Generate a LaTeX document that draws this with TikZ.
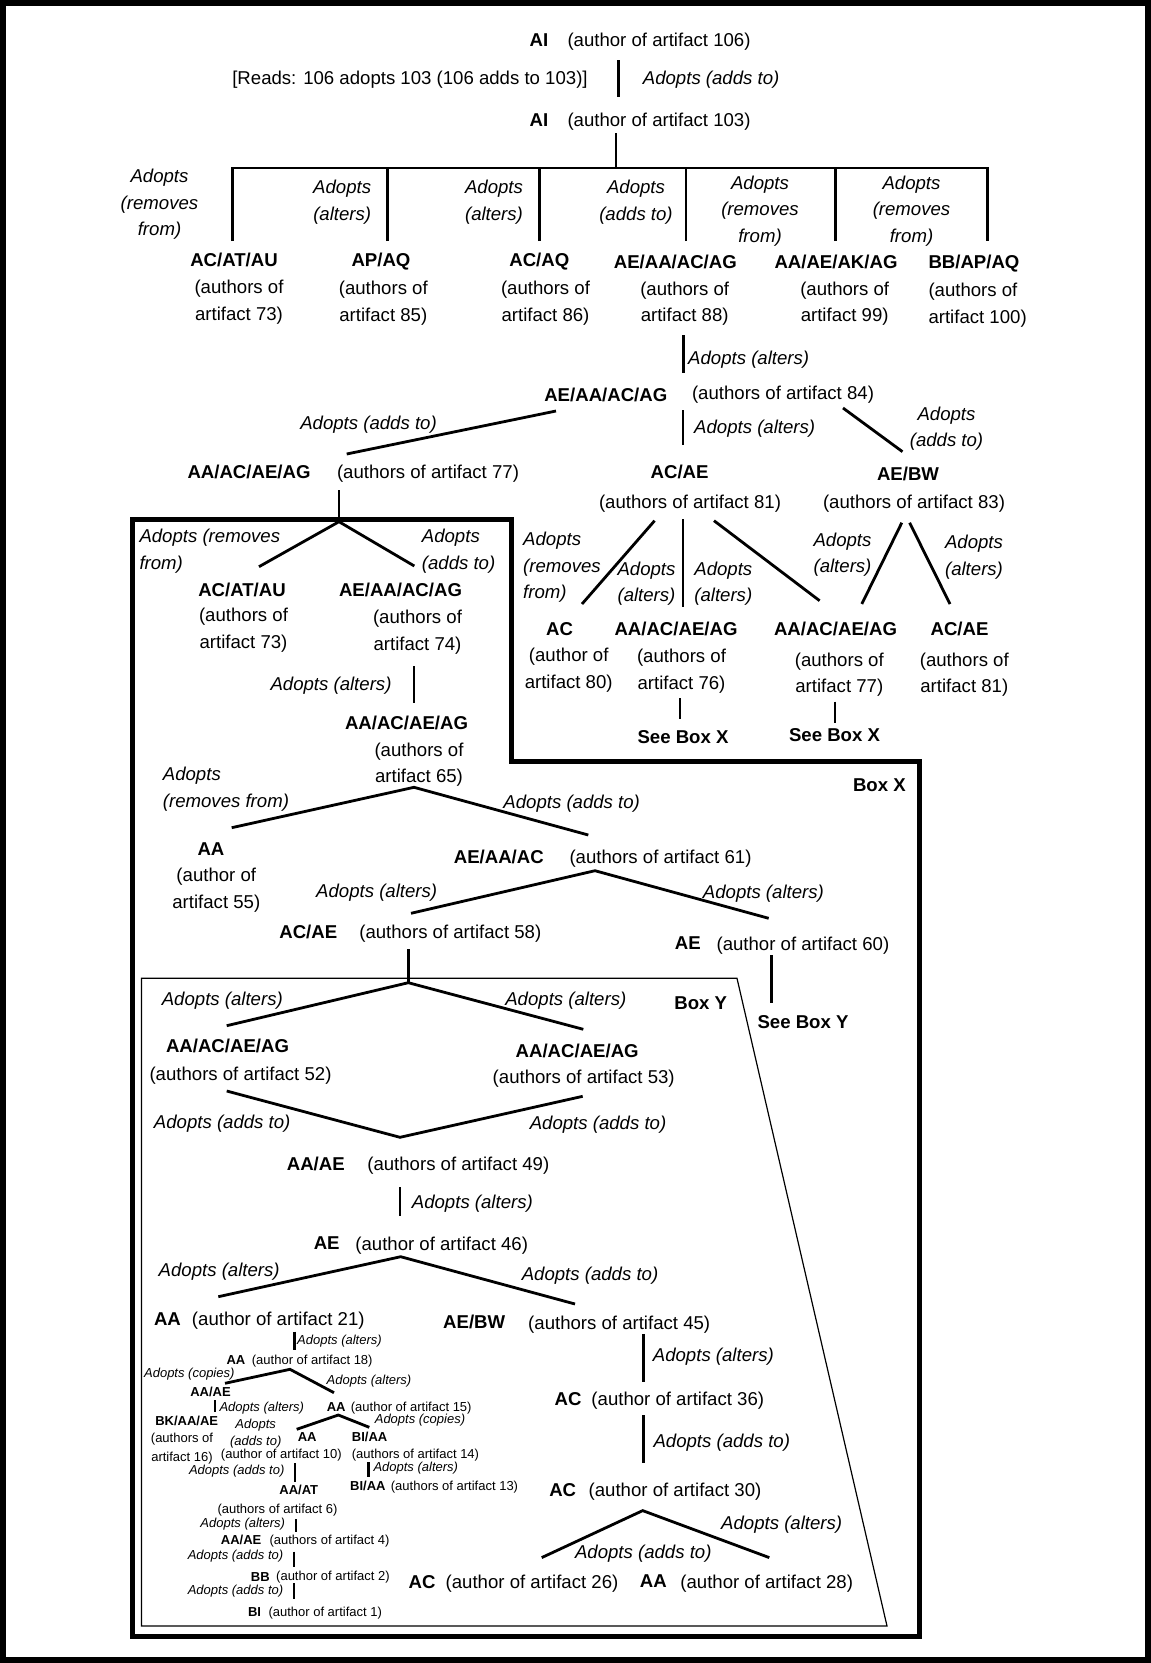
\documentclass[tikz,border=0pt]{standalone}
\usepackage{fontspec}
\setmainfont{Liberation Sans}
\tikzset{
  auth/.style={inner sep=0pt, anchor=north, yshift=6.7pt, align=center, font=\fontsize{18.6}{26.5}\selectfont},
  who/.style={auth, font=\fontsize{18.6}{26.5}\selectfont\bfseries},
  adopt/.style={auth, font=\fontsize{18.6}{26.5}\selectfont\itshape},
  sauth/.style={inner sep=0pt, anchor=north, yshift=4.7pt, align=center, font=\fontsize{13}{16.7}\selectfont},
  swho/.style={sauth, font=\fontsize{13}{16.7}\selectfont\bfseries},
  sadopt/.style={sauth, font=\fontsize{13}{16.7}\selectfont\itshape},
  ln/.style={line width=2.8pt}
}
\begin{document}
\begin{tikzpicture}[x=1pt,y=-1pt]
  \useasboundingbox (0,0) rectangle (1151,1663);
  \draw[line width=6pt] (3,3) rectangle (1148,1660);

  \node[who] (n106) at (539,40) {AI};
  \node[auth] (d106) at (659,40) {(author of artifact 106)};
  \node[auth] (reads) at (410,78) {[Reads: 106 adopts 103 (106 adds to 103)]};
  \node[adopt,anchor=north west] (l103) at (642.7,78) {Adopts (adds to)};
  \node[who] (n103) at (539,120) {AI};
  \node[auth] (d103) at (659,120) {(author of artifact 103)};
  \coordinate (c106) at (618.5,60);
  \coordinate (c103a) at (618.5,97);
  \draw[ln] (c106) -- (c103a);

  \coordinate (c103) at (616,133);
  \coordinate (j103) at (616,168);
  \coordinate (t73) at (232.3,241);
  \coordinate (t85) at (387.3,241);
  \coordinate (t86) at (539.3,241);
  \coordinate (t88) at (686,241);
  \coordinate (t99) at (835.3,241);
  \coordinate (t100) at (987.3,241);
  \draw[ln] (c103) -- (j103);
  \draw[ln] (t73) |- (j103) -| (t100);
  \foreach \t in {t85,t86,t88,t99}
    \draw[ln] (\t) -- (\t |- j103);

  \node[adopt] (l73) at (159.5,176) {Adopts\\(removes\\from)};
  \node[adopt] (l85) at (342.2,186.7) {Adopts\\(alters)};
  \node[adopt] (l86) at (494,186.7) {Adopts\\(alters)};
  \node[adopt] (l88) at (636,186.7) {Adopts\\(adds to)};
  \node[adopt] (l99) at (760,182.3) {Adopts\\(removes\\from)};
  \node[adopt] (l100) at (911.5,182.3) {Adopts\\(removes\\from)};

  \node[who] (n73) at (234,260) {AC/AT/AU};
  \node[auth] (d73) at (239,287) {(authors of\\artifact 73)};
  \node[who] (n85) at (381,260) {AP/AQ};
  \node[auth] (d85) at (383.3,288) {(authors of\\artifact 85)};
  \node[who] (n86) at (539.3,260) {AC/AQ};
  \node[auth] (d86) at (545.5,288) {(authors of\\artifact 86)};
  \node[who] (n88) at (675.3,261.7) {AE/AA/AC/AG};
  \node[auth] (d88) at (684.7,288.3) {(authors of\\artifact 88)};
  \node[who] (n99) at (836,261.7) {AA/AE/AK/AG};
  \node[auth] (d99) at (844.7,288.3) {(authors of\\artifact 99)};
  \node[who,anchor=north west] (n100) at (928.3,261.7) {BB/AP/AQ};
  \node[auth,anchor=north west,align=left] (d100) at (928.3,290) {(authors of\\artifact 100)};

  \coordinate (c88) at (683.3,335);
  \coordinate (c84a) at (683.3,373);
  \draw[ln] (c88) -- (c84a);
  \node[adopt,anchor=north west] (l84) at (688,358) {Adopts (alters)};
  \node[who] (n84) at (605.8,394.3) {AE/AA/AC/AG};
  \node[auth] (d84) at (783,392.3) {(authors of artifact 84)};
  \coordinate (c84b) at (683,410);
  \coordinate (c81) at (683,445);
  \draw[ln] (c84b) -- (c81);
  \node[adopt,anchor=north west] (l81) at (694,426.7) {Adopts (alters)};
  \coordinate (c84c) at (556,411);
  \coordinate (c77) at (346.7,454);
  \draw[ln] (c84c) -- (c77);
  \node[adopt] (l77) at (368.5,422.3) {Adopts (adds to)};
  \coordinate (c84d) at (843,408);
  \coordinate (c83) at (902.5,451.7);
  \draw[ln] (c84d) -- (c83);
  \node[adopt] (l83) at (946.5,413.3) {Adopts\\(adds to)};

  \node[who] (n77) at (249,471.7) {AA/AC/AE/AG};
  \node[auth] (d77) at (428,471.7) {(authors of artifact 77)};
  \node[who] (n81) at (679.6,471.7) {AC/AE};
  \node[auth] (d81) at (690,501.7) {(authors of artifact 81)};
  \node[who] (n83) at (908,474) {AE/BW};
  \node[auth] (d83) at (914,501.7) {(authors of artifact 83)};

  \coordinate (c81a) at (654.6,520.7);
  \coordinate (c80) at (582,604);
  \coordinate (c81b) at (683,519);
  \coordinate (c76) at (683,607);
  \coordinate (c81c) at (714,520.7);
  \coordinate (c77b) at (819.6,600.7);
  \coordinate (c83a) at (901.8,522.7);
  \coordinate (c77c) at (861.8,604);
  \coordinate (c83b) at (909.6,522.7);
  \coordinate (c81d) at (950,604);
  \draw[ln] (c81a) -- (c80);
  \draw[ln] (c81b) -- (c76);
  \draw[ln] (c81c) -- (c77b);
  \draw[ln] (c83a) -- (c77c);
  \draw[ln] (c83b) -- (c81d);
  \node[adopt,anchor=north west,align=left] (l80) at (523,539) {Adopts\\(removes\\from)};
  \node[adopt] (l76) at (646.5,568.3) {Adopts\\(alters)};
  \node[adopt] (l77b) at (723.3,568.3) {Adopts\\(alters)};
  \node[adopt] (l77c) at (842.5,539.3) {Adopts\\(alters)};
  \node[adopt] (l81b) at (974,541.7) {Adopts\\(alters)};

  \node[who] (n80) at (559.5,629) {AC};
  \node[auth] (d80) at (568.7,655) {(author of\\artifact 80)};
  \node[who] (n76) at (676,629) {AA/AC/AE/AG};
  \node[auth] (d76) at (681.5,656) {(authors of\\artifact 76)};
  \node[who] (n77b) at (835.5,629) {AA/AC/AE/AG};
  \node[auth] (d77b) at (839.3,659.3) {(authors of\\artifact 77)};
  \node[who] (n81b) at (959.5,629) {AC/AE};
  \node[auth] (d81b) at (964.3,659.3) {(authors of\\artifact 81)};
  \coordinate (c76a) at (680,698);
  \coordinate (x76) at (680,719);
  \coordinate (c77d) at (835,701.7);
  \coordinate (x77) at (835,722.7);
  \draw[ln] (c76a) -- (x76);
  \draw[ln] (c77d) -- (x77);
  \node[who] (s76) at (683,736.7) {See Box X};
  \node[who] (s77) at (834.5,735) {See Box X};

  \draw[line width=5pt] (132.5,519) -- (511,519) -- (511,761.5) -- (919.5,761.5)
    -- (919.5,1636) -- (132.5,1636) -- cycle;
  \node[who] (bx) at (879.4,785) {Box X};

  \coordinate (c77a) at (339,490);
  \coordinate (j77) at (339,521.7);
  \coordinate (c73b) at (259,566.7);
  \coordinate (c74) at (414.3,566);
  \draw[ln] (c77a) -- (j77);
  \draw[ln] (c73b) -- (j77) -- (c74);
  \node[adopt,anchor=north west,align=left] (l73b) at (139.3,535.7) {Adopts (removes\\from)};
  \node[adopt,anchor=north west,align=left] (l74) at (421.7,535.7) {Adopts\\(adds to)};
  \node[who] (n73b) at (242,590) {AC/AT/AU};
  \node[auth] (d73b) at (243.5,615) {(authors of\\artifact 73)};
  \node[who] (n74) at (400.5,590) {AE/AA/AC/AG};
  \node[auth] (d74) at (417.5,616.7) {(authors of\\artifact 74)};
  \node[adopt] (l65) at (331,683.3) {Adopts (alters)};
  \coordinate (c74a) at (414,666);
  \coordinate (c65) at (414,703);
  \draw[ln] (c74a) -- (c65);
  \node[who] (n65) at (406.5,722.7) {AA/AC/AE/AG};
  \node[auth] (d65) at (419,749.3) {(authors of\\artifact 65)};

  \coordinate (j65) at (414,787.3);
  \coordinate (c55) at (231.7,827.7);
  \coordinate (c61) at (588.3,835);
  \draw[ln] (c55) -- (j65) -- (c61);
  \node[adopt,anchor=north west,align=left] (l55) at (162.7,774) {Adopts\\(removes from)};
  \node[adopt] (l61) at (571.7,801.7) {Adopts (adds to)};
  \node[who] (n55) at (211,849.3) {AA};
  \node[auth] (d55) at (216.3,875) {(author of\\artifact 55)};
  \node[who] (n61) at (498.8,856.7) {AE/AA/AC};
  \node[auth] (d61) at (660.5,856.7) {(authors of artifact 61)};

  \coordinate (j61) at (595,870.7);
  \coordinate (c58) at (411,913.3);
  \coordinate (c60) at (768.7,918.3);
  \draw[ln] (c58) -- (j61) -- (c60);
  \node[adopt] (l58) at (376.7,890.7) {Adopts (alters)};
  \node[adopt] (l60) at (763.4,891.7) {Adopts (alters)};
  \node[who] (n58) at (308.3,931.7) {AC/AE};
  \node[auth] (d58) at (450.3,931.7) {(authors of artifact 58)};
  \node[who] (n60) at (687.8,943.3) {AE};
  \node[auth] (d60) at (802.9,943.3) {(author of artifact 60)};
  \coordinate (c60a) at (771.5,955);
  \coordinate (x60) at (771.5,1002.7);
  \draw[ln] (c60a) -- (x60);
  \node[who] (s60) at (803,1021.7) {See Box Y};

  \draw[line width=1.2pt] (141.5,978.3) -- (737,978.3) -- (887,1626) -- (141.5,1626) -- cycle;
  \node[who] (by) at (700.8,1003.3) {Box Y};

  \coordinate (c58a) at (408.3,949.3);
  \coordinate (j58) at (408.3,982.7);
  \coordinate (c52) at (226.7,1025.7);
  \coordinate (c53) at (583.3,1029.3);
  \draw[ln] (c58a) -- (j58);
  \draw[ln] (c52) -- (j58) -- (c53);
  \node[adopt] (l52) at (222.3,998.3) {Adopts (alters)};
  \node[adopt] (l53) at (565.8,998.3) {Adopts (alters)};
  \node[who] (n52) at (227.5,1046) {AA/AC/AE/AG};
  \node[auth] (d52) at (240.5,1073.3) {(authors of artifact 52)};
  \node[who] (n53) at (577.2,1050.7) {AA/AC/AE/AG};
  \node[auth] (d53) at (583.7,1076.6) {(authors of artifact 53)};

  \coordinate (c52a) at (226.7,1091);
  \coordinate (j49) at (400,1137.3);
  \coordinate (c53a) at (582.7,1096.3);
  \draw[ln] (c52a) -- (j49) -- (c53a);
  \node[adopt] (l52b) at (222.2,1121.7) {Adopts (adds to)};
  \node[adopt] (l53b) at (598,1122.9) {Adopts (adds to)};
  \node[who] (n49) at (315.8,1163.3) {AA/AE};
  \node[auth] (d49) at (458.3,1163.3) {(authors of artifact 49)};
  \coordinate (c49) at (400,1187.3);
  \coordinate (c46a) at (400,1215.7);
  \draw[ln] (c49) -- (c46a);
  \node[adopt,anchor=north west] (l46) at (411.7,1201.7) {Adopts (alters)};
  \node[who] (n46) at (326.7,1243.3) {AE};
  \node[auth] (d46) at (441.7,1243.3) {(author of artifact 46)};

  \coordinate (j46) at (400.7,1256.7);
  \coordinate (c21) at (218.3,1296.7);
  \coordinate (c45) at (575,1304);
  \draw[ln] (c21) -- (j46) -- (c45);
  \node[adopt] (l21) at (219.2,1270) {Adopts (alters)};
  \node[adopt] (l45) at (590,1274) {Adopts (adds to)};
  \node[who] (n21) at (167.5,1319) {AA};
  \node[auth] (d21) at (278.3,1319) {(author of artifact 21)};
  \node[who] (n45) at (474.2,1322) {AE/BW};
  \node[auth] (d45) at (619.2,1323) {(authors of artifact 45)};

  \coordinate (c45a) at (643.3,1333.8);
  \coordinate (c36) at (643.3,1381.9);
  \draw[ln] (c45a) -- (c36);
  \node[adopt,anchor=north west] (l36) at (652.7,1354.9) {Adopts (alters)};
  \node[who] (n36) at (568,1398.5) {AC};
  \node[auth] (d36) at (677.8,1398.5) {(author of artifact 36)};
  \coordinate (c36a) at (643.3,1415.2);
  \coordinate (c30) at (643.3,1463.3);
  \draw[ln] (c36a) -- (c30);
  \node[adopt,anchor=north west] (l30) at (653.3,1440.3) {Adopts (adds to)};
  \node[who] (n30) at (562.7,1489.9) {AC};
  \node[auth] (d30) at (675,1489.9) {(author of artifact 30)};
  \coordinate (j30) at (642.7,1510.6);
  \coordinate (c26) at (541.7,1557.6);
  \coordinate (c28) at (769.3,1557.6);
  \draw[ln] (c26) -- (j30) -- (c28);
  \node[adopt] (l28) at (781.7,1522.4) {Adopts (alters)};
  \node[adopt] (l26) at (643.3,1552) {Adopts (adds to)};
  \node[who] (n26) at (422,1581.6) {AC};
  \node[auth] (d26) at (532,1581.6) {(author of artifact 26)};
  \node[who] (n28) at (653.3,1581.6) {AA};
  \node[auth] (d28) at (766.7,1581.6) {(author of artifact 28)};

  \coordinate (c21a) at (294.3,1331.7);
  \coordinate (c18) at (294.3,1350);
  \draw[ln] (c21a) -- (c18);
  \node[sadopt,anchor=north west] (l18) at (297,1340) {Adopts (alters)};
  \node[swho] (n18) at (235.9,1360) {AA};
  \node[sauth,anchor=north west] (d18) at (251.7,1360) {(author of artifact 18)};
  \coordinate (j18) at (290,1369.3);
  \coordinate (c16) at (225,1383.3);
  \coordinate (c15) at (334,1392.7);
  \draw[ln] (c16) -- (j18) -- (c15);
  \node[sadopt] (l16) at (189.3,1372.7) {Adopts (copies)};
  \node[sadopt] (l15) at (369,1380) {Adopts (alters)};
  \node[swho] (n16a) at (210.5,1392) {AA/AE};
  \coordinate (c16a) at (215,1400);
  \coordinate (c16b) at (215,1411.7);
  \draw[ln] (c16a) -- (c16b);
  \node[sadopt,anchor=north west] (l16b) at (219.3,1406.7) {Adopts (alters)};
  \node[swho] (n15) at (336.2,1406.7) {AA};
  \node[sauth,anchor=north west] (d15) at (350.7,1406.7) {(author of artifact 15)};
  \coordinate (j15) at (338.3,1415);
  \coordinate (c10) at (296.7,1429.3);
  \coordinate (c14) at (369.3,1427.3);
  \draw[ln] (c10) -- (j15) -- (c14);
  \node[swho] (n16) at (186.7,1420.7) {BK/AA/AE};
  \node[sauth] (d16) at (182,1437.3) {(authors of\\[2.3pt]artifact 16)};
  \node[sadopt] (l10) at (255.7,1424) {Adopts\\(adds to)};
  \node[sadopt] (l14) at (420,1418.3) {Adopts (copies)};
  \node[swho] (n10) at (307.2,1436.7) {AA};
  \node[sauth] (d10) at (281.3,1454) {(author of artifact 10)};
  \node[swho,anchor=north west] (n14) at (351.7,1436.7) {BI/AA};
  \node[sauth,anchor=north west] (d14) at (351.7,1453.5) {(authors of artifact 14)};
  \node[sadopt] (l6) at (236.7,1470) {Adopts (adds to)};
  \coordinate (c10a) at (295,1463.3);
  \coordinate (c6) at (295,1481.7);
  \draw[ln] (c10a) -- (c6);
  \coordinate (c14a) at (368.3,1462.3);
  \coordinate (c13) at (368.3,1477.3);
  \draw[ln] (c14a) -- (c13);
  \node[sadopt,anchor=north west] (l13) at (373.3,1467) {Adopts (alters)};
  \node[swho,anchor=north west] (n13) at (350,1485.5) {BI/AA};
  \node[sauth,anchor=north west] (d13) at (390.7,1485.5) {(authors of artifact 13)};
  \node[swho] (n6) at (298.8,1490) {AA/AT};
  \node[sauth] (d6) at (277.5,1508.3) {(authors of artifact 6)};
  \node[sadopt] (l4) at (242.7,1522.7) {Adopts (alters)};
  \coordinate (c6a) at (296,1519.3);
  \coordinate (c4) at (296,1531.7);
  \draw[ln] (c6a) -- (c4);
  \node[swho,anchor=north west] (n4) at (220.7,1539.3) {AA/AE};
  \node[sauth,anchor=north west] (d4) at (269.3,1539.3) {(authors of artifact 4)};
  \node[sadopt] (l2) at (235.5,1555) {Adopts (adds to)};
  \coordinate (c4a) at (294,1551.7);
  \coordinate (c2) at (294,1566.7);
  \draw[ln] (c4a) -- (c2);
  \node[swho] (n2) at (260.3,1577.5) {BB};
  \node[sauth,anchor=north west] (d2) at (276,1576) {(author of artifact 2)};
  \node[sadopt] (l1) at (235.5,1590) {Adopts (adds to)};
  \coordinate (c2a) at (294,1583.3);
  \coordinate (c1) at (294,1599.3);
  \draw[ln] (c2a) -- (c1);
  \node[swho] (n1) at (254.5,1611.7) {BI};
  \node[sauth,anchor=north west] (d1) at (268.3,1611.7) {(author of artifact 1)};
\end{tikzpicture}
\end{document}
